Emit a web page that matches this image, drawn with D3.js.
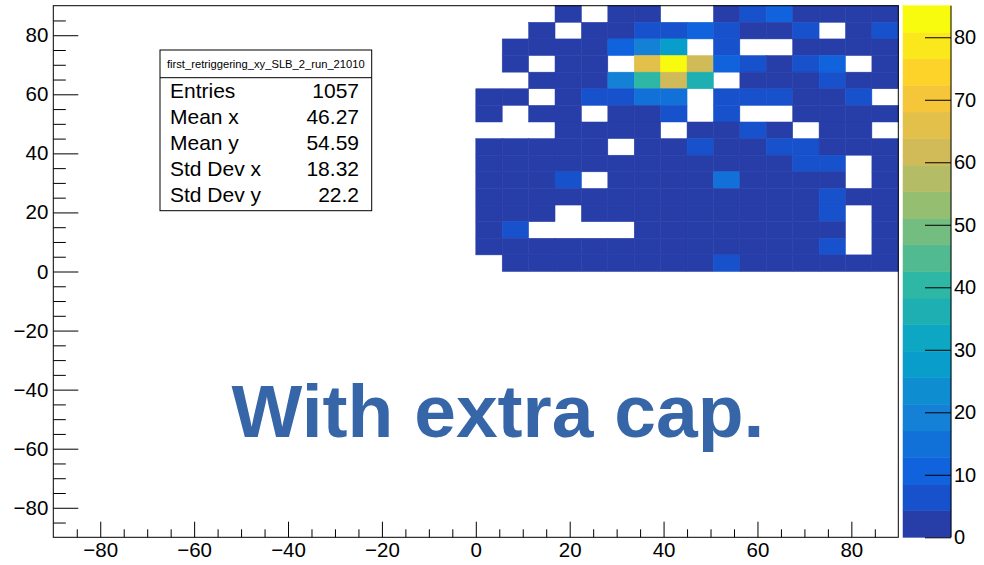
<!DOCTYPE html>
<html>
<head>
<meta charset="utf-8">
<script src="https://cdn.jsdelivr.net/npm/d3@7"></script>
<style>
  html, body { margin: 0; padding: 0; background: #fff; }
  svg { display: block; font-family: "Liberation Sans", Arial, Helvetica, sans-serif; }
</style>
</head>
<body>
<svg id="chart" width="984" height="565"></svg>
<script>
// ---- histogram definition ----
const histName = "first_retriggering_xy_SLB_2_run_21010";
const xLimits = [-90, 90];
const yLimits = [-90, 90];
const binsPerAxis = 32;
const firstFilledBinX = 16;   // x bin of the first column below
const firstFilledBinY = 16;   // y bin of the last row below

// bin contents, highest y row first, x increasing left to right
const binCounts = [
  [0, 0, 0, 2, 0, 1, 3, 0, 0, 2, 6, 10, 3, 2, 1, 3],
  [0, 0, 1, 0, 3, 4, 7, 6, 11, 5, 3, 2, 5, 0, 2, 6],
  [0, 1, 2, 2, 4, 9, 19, 28, 0, 7, 0, 0, 3, 2, 2, 1],
  [0, 2, 0, 3, 4, 0, 66, 81, 61, 11, 6, 3, 5, 10, 0, 2],
  [0, 0, 1, 3, 4, 18, 40, 62, 36, 0, 2, 3, 2, 5, 3, 2],
  [2, 1, 0, 3, 6, 7, 15, 14, 0, 6, 5, 6, 3, 2, 5, 0],
  [1, 0, 2, 3, 0, 4, 3, 6, 0, 5, 0, 0, 2, 3, 1, 2],
  [0, 0, 0, 2, 3, 2, 3, 0, 2, 3, 6, 2, 0, 1, 2, 0],
  [2, 3, 2, 3, 2, 0, 3, 4, 5, 3, 2, 6, 5, 2, 1, 2],
  [3, 2, 2, 3, 2, 3, 2, 4, 3, 3, 2, 4, 6, 5, 0, 2],
  [2, 2, 3, 6, 0, 3, 2, 3, 2, 15, 3, 2, 4, 3, 0, 1],
  [2, 3, 2, 2, 3, 2, 3, 2, 3, 2, 3, 2, 3, 6, 2, 2],
  [2, 2, 3, 0, 2, 2, 3, 2, 3, 2, 2, 2, 3, 5, 0, 2],
  [2, 6, 0, 0, 0, 0, 2, 3, 2, 2, 3, 2, 2, 2, 0, 2],
  [2, 2, 2, 2, 3, 2, 2, 3, 2, 2, 2, 3, 3, 6, 0, 2],
  [0, 2, 2, 2, 2, 2, 2, 3, 2, 6, 2, 2, 3, 2, 2, 2]
];

// ---- axis ticks ----
const xMajorTicks = [-80, -60, -40, -20, 0, 20, 40, 60, 80];
const yMajorTicks = [-80, -60, -40, -20, 0, 20, 40, 60, 80];
const zTicks = [0, 10, 20, 30, 40, 50, 60, 70, 80];
const minorStep = 5;

// ---- statistics box ----
const statLabels = ["Entries", "Mean x", "Mean y", "Std Dev x", "Std Dev y"];
const statMeanStd = ["46.27", "54.59", "18.32", "22.2"];

const annotation = "With extra cap.";

// ---- colour palette (bird) ----
const contourCount = 20;
const birdStops = [0.0, 0.125, 0.25, 0.375, 0.5, 0.625, 0.75, 0.875, 1.0];
const birdRed   = [0.2082, 0.0592, 0.0780, 0.0232, 0.1802, 0.5301, 0.8186, 0.9956, 0.9764];
const birdGreen = [0.1664, 0.3599, 0.5041, 0.6419, 0.7178, 0.7492, 0.7328, 0.7862, 0.9832];
const birdBlue  = [0.5293, 0.8684, 0.8385, 0.7914, 0.6425, 0.4662, 0.3499, 0.1968, 0.0539];

// ---------------------------------------------------------------
const svg = d3.select("#chart");
const frame = { left: 53.3, right: 898.3, top: 5.7, bottom: 537.3 };
const bar = { left: 903, right: 951 };
const FONT = "Liberation Sans, Arial, Helvetica, sans-serif";

const x = d3.scaleLinear().domain(xLimits).range([frame.left, frame.right]);
const y = d3.scaleLinear().domain(yLimits).range([frame.bottom, frame.top]);

const binW = (xLimits[1] - xLimits[0]) / binsPerAxis;
const binH = (yLimits[1] - yLimits[0]) / binsPerAxis;

// flatten the grid into bins
const nRows = binCounts.length;
const bins = [];
binCounts.forEach((row, r) => {
  row.forEach((v, c) => {
    const ix = firstFilledBinX + c;
    const iy = firstFilledBinY + (nRows - 1 - r);
    bins.push({
      x0: xLimits[0] + ix * binW, x1: xLimits[0] + (ix + 1) * binW,
      y0: yLimits[0] + iy * binH, y1: yLimits[0] + (iy + 1) * binH,
      v
    });
  });
});

const entries = d3.sum(bins, d => d.v);
const zMax = d3.max(bins, d => d.v) * 1.05;

// palette sampled as a 255-colour gradient, one colour per contour
const birdScale = d3.scaleLinear()
  .domain(birdStops)
  .range(birdStops.map((_, i) => d3.rgb(birdRed[i] * 255, birdGreen[i] * 255, birdBlue[i] * 255)))
  .interpolate(d3.interpolateRgb);
const contourColor = d3.range(contourCount).map(i =>
  birdScale(Math.floor((i + 0.99) * 255 / contourCount) / 254));
const levelOf = v => Math.min(contourCount - 1, Math.floor(v / (zMax / contourCount)));

// ---- cells ----
svg.append("g")
  .selectAll("rect")
  .data(bins.filter(d => d.v > 0))
  .join("rect")
  .attr("x", d => x(d.x0))
  .attr("y", d => y(d.y1))
  .attr("width", d => x(d.x1) - x(d.x0))
  .attr("height", d => y(d.y0) - y(d.y1))
  .attr("fill", d => contourColor[levelOf(d.v)])
  .attr("stroke", d => contourColor[levelOf(d.v)])
  .attr("stroke-width", 0.5);

// ---- frame ----
svg.append("rect")
  .attr("x", frame.left).attr("y", frame.top)
  .attr("width", frame.right - frame.left).attr("height", frame.bottom - frame.top)
  .attr("fill", "none").attr("stroke", "#000").attr("stroke-width", 1);

const minorOf = majors => d3.range(xLimits[0] + minorStep, xLimits[1], minorStep)
  .filter(v => !majors.includes(v));

function styleAxis(g) {
  g.selectAll(".domain").remove();
  g.selectAll("line").attr("stroke", "#000");
  g.selectAll("text")
    .attr("font-family", FONT)
    .attr("font-size", 20.5)
    .attr("fill", "#000");
}

// x axis (ticks drawn inward)
svg.append("g")
  .attr("transform", `translate(0,${frame.bottom})`)
  .call(d3.axisBottom(x).tickValues(xMajorTicks).tickSize(-15.6).tickSizeOuter(0).tickPadding(5.5))
  .call(styleAxis);
svg.append("g")
  .attr("transform", `translate(0,${frame.bottom})`)
  .call(d3.axisBottom(x).tickValues(minorOf(xMajorTicks)).tickSize(-8).tickSizeOuter(0).tickFormat(""))
  .call(styleAxis);

// y axis
svg.append("g")
  .attr("transform", `translate(${frame.left},0)`)
  .call(d3.axisLeft(y).tickValues(yMajorTicks).tickSize(-25).tickSizeOuter(0).tickPadding(5))
  .call(styleAxis);
svg.append("g")
  .attr("transform", `translate(${frame.left},0)`)
  .call(d3.axisLeft(y).tickValues(minorOf(yMajorTicks)).tickSize(-12.5).tickSizeOuter(0).tickFormat(""))
  .call(styleAxis);

// ---- colour bar ----
const z = d3.scaleLinear().domain([0, zMax]).range([frame.bottom, frame.top]);
const step = zMax / contourCount;
svg.append("g")
  .selectAll("rect")
  .data(d3.range(contourCount))
  .join("rect")
  .attr("x", bar.left)
  .attr("y", i => z((i + 1) * step))
  .attr("width", bar.right - bar.left)
  .attr("height", i => z(i * step) - z((i + 1) * step))
  .attr("fill", i => contourColor[i])
  .attr("stroke", i => contourColor[i])
  .attr("stroke-width", 0.5);

svg.append("g")
  .attr("transform", `translate(${bar.right},0)`)
  .call(d3.axisRight(z).tickValues(zTicks).tickSize(-26).tickSizeOuter(0).tickPadding(3))
  .call(g => g.select(".domain").attr("stroke", "#000").attr("d", `M0,${frame.top}V${frame.bottom}`))
  .call(g => {
    g.selectAll("line").attr("stroke", "#000");
    g.selectAll("text").attr("font-family", FONT).attr("font-size", 20).attr("fill", "#000");
  });

// ---- statistics box ----
const box = { x: 160, y: 50, w: 211.7, h: 160.7, header: 27.7 };
const stats = svg.append("g");
stats.append("rect")
  .attr("x", box.x).attr("y", box.y).attr("width", box.w).attr("height", box.h)
  .attr("fill", "#fff").attr("stroke", "#000").attr("stroke-width", 1);
stats.append("line")
  .attr("x1", box.x).attr("x2", box.x + box.w)
  .attr("y1", box.y + box.header).attr("y2", box.y + box.header)
  .attr("stroke", "#000");
stats.append("text")
  .attr("x", box.x + box.w / 2).attr("y", box.y + 17.7)
  .attr("text-anchor", "middle")
  .attr("font-size", 11.2)
  .text(histName);

const statValues = [String(entries), ...statMeanStd];
statLabels.forEach((label, i) => {
  const by = box.y + 48.3 + i * 25.9;
  stats.append("text").attr("x", box.x + 10).attr("y", by)
    .attr("font-size", 21).text(label);
  stats.append("text").attr("x", box.x + 199).attr("y", by)
    .attr("text-anchor", "end").attr("font-size", 21).text(statValues[i]);
});

// ---- overlay caption ----
svg.append("text")
  .attr("x", 498).attr("y", 437)
  .attr("text-anchor", "middle")
  .attr("font-family", FONT)
  .attr("font-weight", "bold")
  .attr("font-size", 75)
  .attr("fill", "#3665a8")
  .text(annotation);
</script>
</body>
</html>
